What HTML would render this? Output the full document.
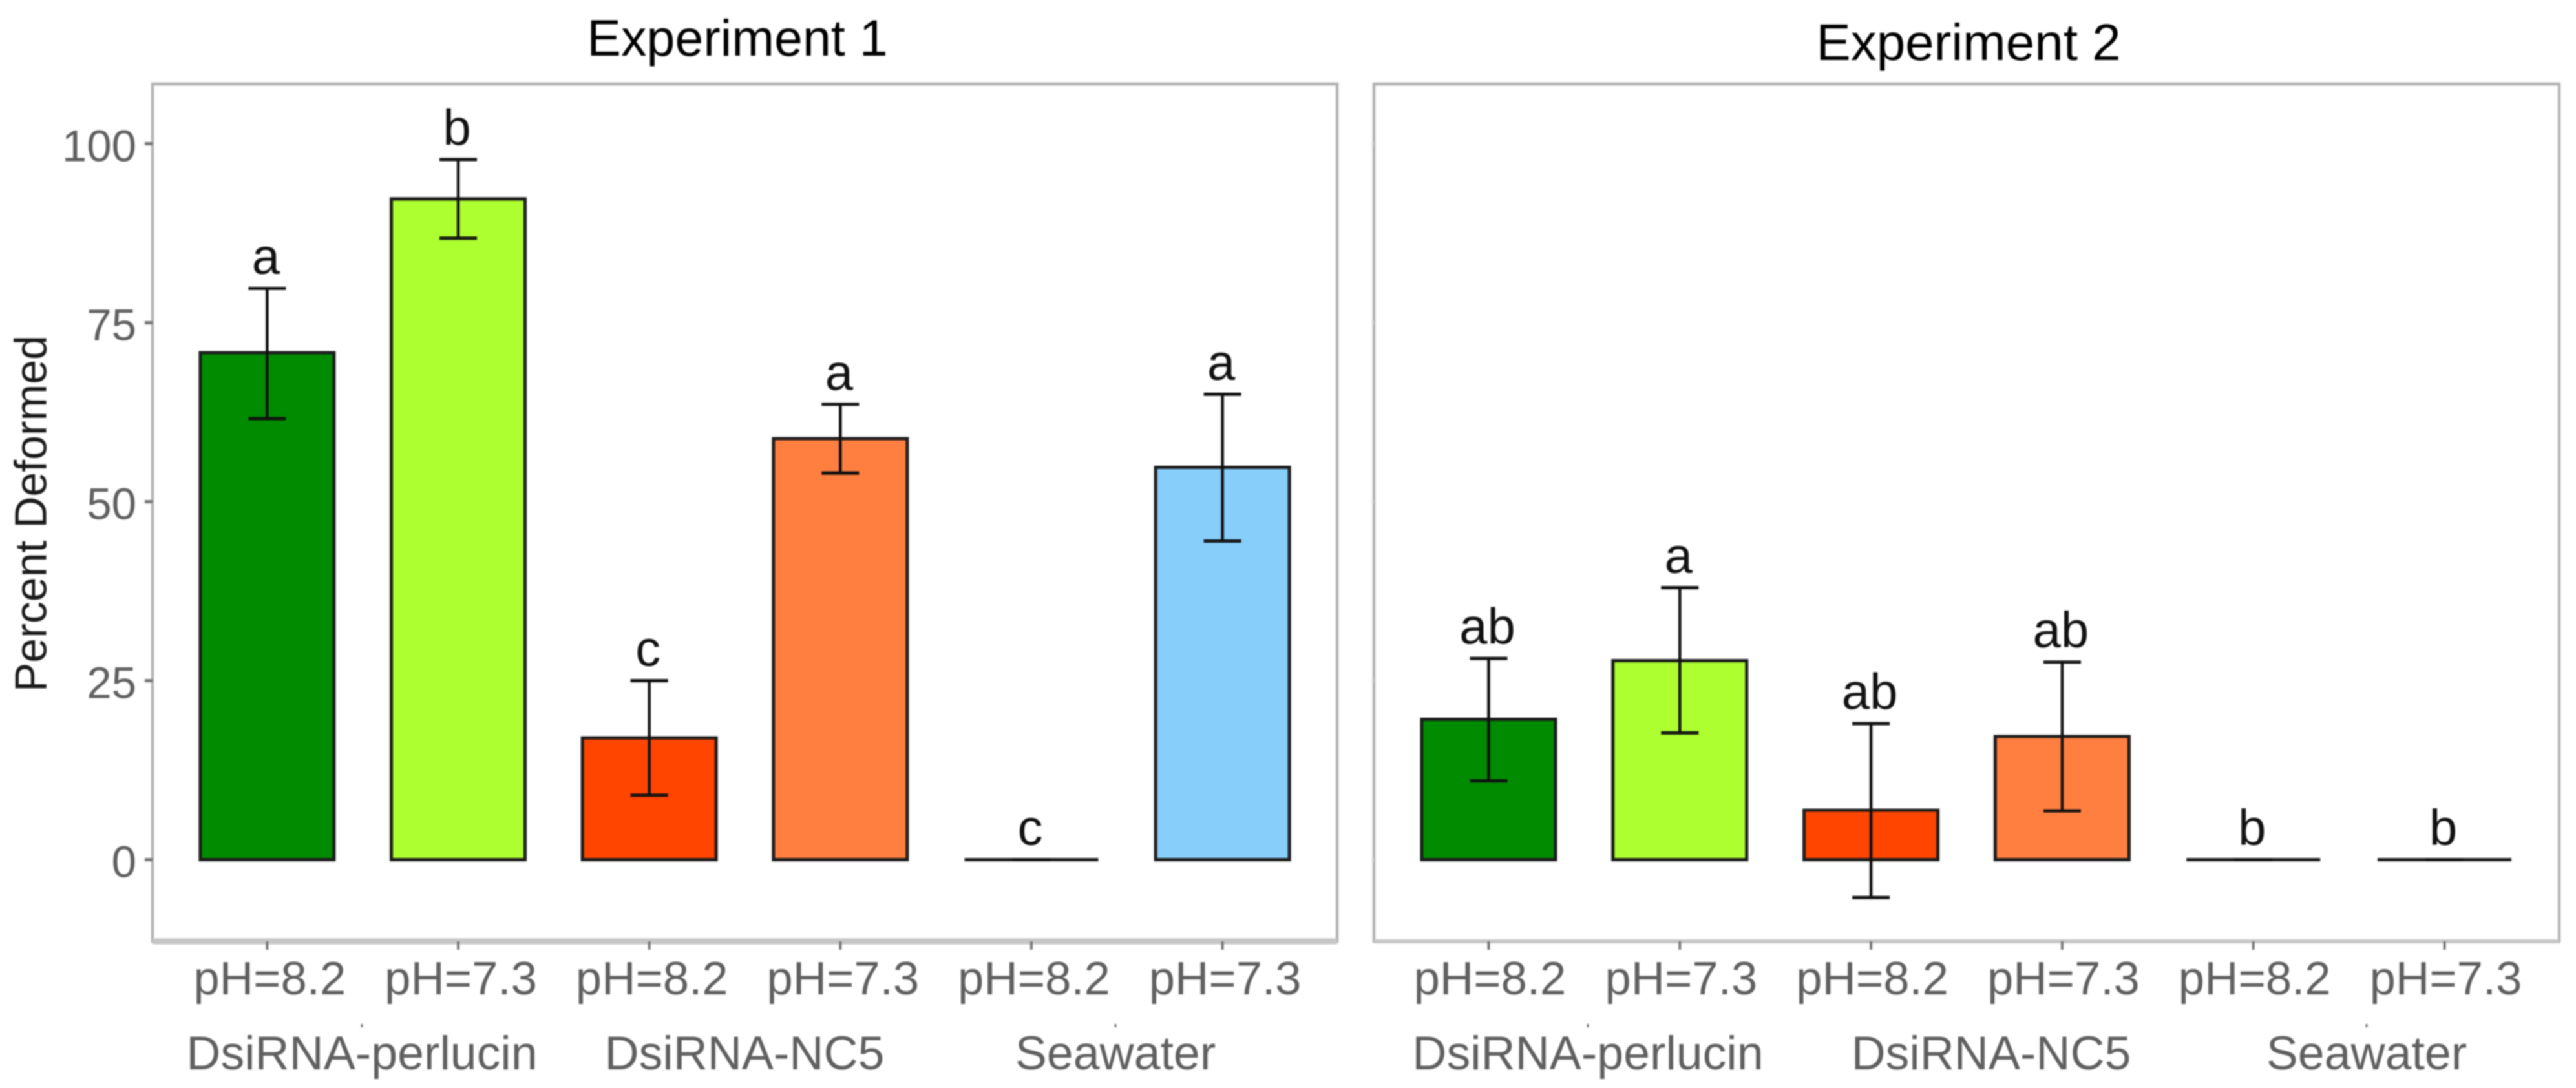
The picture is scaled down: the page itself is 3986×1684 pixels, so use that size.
<!DOCTYPE html>
<html lang="en">
<head>
<meta charset="utf-8">
<title>Percent Deformed by treatment</title>
<style>
  html, body { margin: 0; padding: 0; background: #fff; }
  #chart { display: block; width: 3986px; height: 1684px; filter: blur(1px); font-family: "Liberation Sans", Arial, sans-serif; }
</style>
</head>
<body>
<svg id="chart" xmlns="http://www.w3.org/2000/svg" width="3986" height="1684" viewBox="0 0 3986 1684">
  <rect x="0" y="0" width="3986" height="1684" fill="#ffffff"/>
  <text transform="translate(71.5 795) rotate(-90)" text-anchor="middle" font-size="70" textLength="552" lengthAdjust="spacingAndGlyphs" fill="#1a1a1a">Percent Deformed</text>
  <g id="panels"></g>
</svg>
<script>
const phLabels = ['pH=8.2', 'pH=7.3', 'pH=8.2', 'pH=7.3', 'pH=8.2', 'pH=7.3'];
const barColors = ['#008B00', '#ADFF2F', '#FF4500', '#FF7F40', '#87CEFA', '#87CEFA'];
const yTicks = [0, 25, 50, 75, 100];
const groupLabels = ['DsiRNA-perlucin', 'DsiRNA-NC5', 'Seawater'];

const exp1Values = [70.8, 92.3, 17.0, 58.8, 0, 54.8];
const exp1Upper = [79.8, 97.8, 25.0, 63.6, 0, 65.0];
const exp1Lower = [61.6, 86.8, 9.0, 54.0, 0, 44.5];
const exp1Letters = ['a', 'b', 'c', 'a', 'c', 'a'];

const exp2Values = [19.6, 27.8, 6.9, 17.2, 0, 0];
const exp2Upper = [28.1, 38.0, 19.0, 27.6, 0, 0];
const exp2Lower = [11.0, 17.7, -5.3, 6.8, 0, 0];
const exp2Letters = ['ab', 'a', 'ab', 'ab', 'b', 'b'];

const SVG_NS = 'http://www.w3.org/2000/svg';
const root = document.getElementById('panels');
const panelTop = 130;
const panelBottom = 1457;

function yScale(v) { return 1330.5 - v * 11.08; }

function make(tag, parent, props, text) {
  const el = document.createElementNS(SVG_NS, tag);
  for (const k in props) el.setAttribute(k, props[k]);
  if (text !== undefined) el.textContent = text;
  parent.appendChild(el);
  return el;
}

function drawPanel(opts) {
  const left = opts.left;
  const right = opts.right;
  const step = (right - left) / 6.2;
  const xScale = function (i) { return left + (0.6 + i) * step; };
  const barWidth = 0.7 * step;

  const g = make('g', root, {});
  
  

  const title = make('text', g, { x: opts.titleX, y: opts.titleY, 'text-anchor': 'middle', 'font-size': opts.titleSize, fill: '#000' }, opts.title);
  
  

  const border = make('rect', g, { x: left, y: panelTop, width: right - left, height: panelBottom - panelTop, fill: 'none', stroke: '#b3b3b3', 'stroke-width': 4.5 });
  
  

  const bottomEdge = make('line', g, { x1: left, x2: right, y1: panelBottom, y2: panelBottom, stroke: '#c6c6c6', 'stroke-width': opts.bottomWidth });
  
  

  yTicks.forEach(function (t) {
    const y = yScale(t);
    const tick = make('line', g, { x1: left - opts.tickLen, x2: left, y1: y, y2: y, stroke: opts.tickColor, 'stroke-width': 5 });
    
    
    if (opts.showYLabels) {
      const lab = make('text', g, { x: left - 25, y: y + 27, 'text-anchor': 'end', 'font-size': 69, fill: '#5f5f5f' }, String(t));
      
      
    }
  });

  opts.values.forEach(function (v, i) {
    const cx = xScale(i);
    const top = yScale(Math.max(v, 0));
    const base = yScale(0);
    const hiY = yScale(opts.upper[i]);
    const loY = yScale(opts.lower[i]);
    const x0 = cx - barWidth / 2;
    const x1 = cx + barWidth / 2;

    const bar = make('path', g, { d: 'M' + x0 + ' ' + top + 'H' + x1 + 'V' + base + 'H' + x0 + 'Z', fill: barColors[i], stroke: '#1c1c1c', 'stroke-width': 5, 'stroke-linejoin': 'miter' });
    
    

    const stem = make('line', g, { x1: cx, x2: cx, y1: hiY, y2: loY, stroke: '#111', 'stroke-width': 4.5 });
    
    

    const capHi = make('line', g, { x1: cx - 29, x2: cx + 29, y1: hiY, y2: hiY, stroke: '#111', 'stroke-width': 5 });
    
    

    const capLo = make('line', g, { x1: cx - 29, x2: cx + 29, y1: loY, y2: loY, stroke: '#111', 'stroke-width': 5 });
    
    

    const letter = make('text', g, { x: cx - 2, y: hiY - 23, 'text-anchor': 'middle', 'font-size': 78, fill: '#111' }, opts.letters[i]);
    
    

    const xt = make('line', g, { x1: cx, x2: cx, y1: panelBottom, y2: panelBottom + 13, stroke: '#777', 'stroke-width': 4 });
    
    

    const ph = make('text', g, { x: cx + opts.phShift, y: 1539, 'text-anchor': 'middle', 'font-size': 72.5, fill: '#5f5f5f' }, phLabels[i]);
    
    
  });

  groupLabels.forEach(function (name, i) {
    const gx = opts.groupCenters[i];
    const gl = make('text', g, { x: gx, y: 1655, 'text-anchor': 'middle', 'font-size': 73.5, fill: '#5f5f5f' }, name);
    
    
    if (i !== 1) {
      const dot = make('rect', g, { x: gx - 1.5, y: 1585, width: 3, height: 5, fill: '#777' });
      
      
    }
  });
}

drawPanel({
  key: 'experiment-1', title: 'Experiment 1', titleX: 1141, titleY: 86, titleSize: 79,
  left: 236, right: 2069, tickLen: 12, tickColor: '#777', showYLabels: true, bottomWidth: 9, phShift: 4,
  values: exp1Values, upper: exp1Upper, lower: exp1Lower, letters: exp1Letters,
  groupCenters: [560, 1152, 1726]
});

drawPanel({
  key: 'experiment-2', title: 'Experiment 2', titleX: 3046, titleY: 93, titleSize: 80,
  left: 2126, right: 3960, tickLen: 3, tickColor: '#cfcfcf', showYLabels: false, bottomWidth: 6, phShift: 2,
  values: exp2Values, upper: exp2Upper, lower: exp2Lower, letters: exp2Letters,
  groupCenters: [2457, 3081, 3662]
});
</script>
</body>
</html>
